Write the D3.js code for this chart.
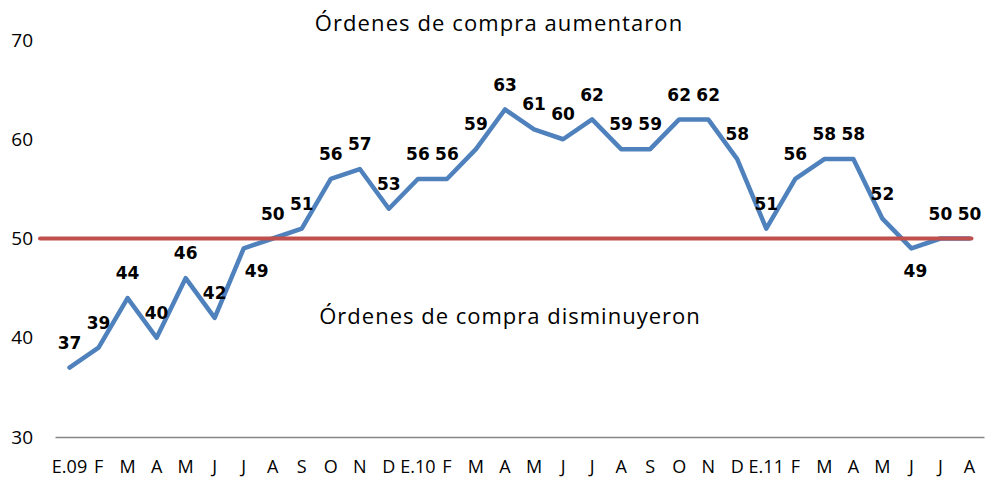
<!DOCTYPE html>
<html><head><meta charset="utf-8">
<script src="https://cdn.jsdelivr.net/npm/d3@7"></script>
<style>body{margin:0;background:#fff} svg{display:block}</style>
</head><body><svg id="c" width="987" height="480"></svg>
<script>
const categories = ["E.09","F","M","A","M","J","J","A","S","O","N","D","E.10","F","M","A","M","J","J","A","S","O","N","D","E.11","F","M","A","M","J","J","A"];
const values = [37,39,44,40,46,42,49,50,51,56,57,53,56,56,59,63,61,60,62,59,59,62,62,58,51,56,58,58,52,49,50,50];
const yTicks = [30,40,50,60,70];
const threshold = 50;
const labelBelow = [6, 29];
const topNote = "Órdenes de compra aumentaron";
const bottomNote = "Órdenes de compra disminuyeron";

const svg = d3.select("#c");
const x = d3.scaleBand().domain(d3.range(categories.length)).range([55, 984]).padding(0);
const cx = i => x(i) + x.bandwidth() / 2;
const y = d3.scaleLinear().domain([30, 70]).range([437, 40]);
const axisFont = "'Open Sans', sans-serif";

// y axis
const ya = svg.append("g").attr("transform", "translate(55,0)")
  .call(d3.axisLeft(y).tickValues(yTicks).tickSize(0).tickPadding(22));
ya.select(".domain").remove();
ya.selectAll("text").attr("font-family", axisFont).attr("font-size", 19).attr("fill", "#000");

// x axis
const xa = svg.append("g").attr("transform", "translate(0,437)")
  .call(d3.axisBottom(x).tickFormat(i => categories[i]).tickSize(0).tickSizeOuter(0).tickPadding(23));
xa.select(".domain").attr("stroke", "#868686").attr("stroke-width", 1.5);
xa.selectAll("text").attr("font-family", axisFont).attr("font-size", 18).attr("fill", "#000");

// series line
const line = d3.line().x((d, i) => cx(i)).y(d => y(d));
svg.append("path").datum(values).attr("d", line)
  .attr("fill", "none").attr("stroke", "#4F81BD").attr("stroke-width", 4.5)
  .attr("stroke-linejoin", "round").attr("stroke-linecap", "round");

// threshold line
svg.append("line")
  .attr("x1", x.range()[0] - 15).attr("x2", cx(categories.length - 1) + 2)
  .attr("y1", y(threshold)).attr("y2", y(threshold))
  .attr("stroke", "#C0504D").attr("stroke-width", 4).attr("stroke-linecap", "round");

// data labels
svg.append("g").selectAll("text").data(values).join("text")
  .attr("x", (d, i) => cx(i) + (labelBelow.includes(i) ? (i < 10 ? 13 : 4) : 0))
  .attr("y", (d, i) => y(d) + (labelBelow.includes(i) ? 22 : -25))
  .attr("dy", "0.36em")
  .attr("text-anchor", "middle")
  .attr("font-family", "'DejaVu Sans', Verdana, sans-serif")
  .attr("font-weight", "bold").attr("font-size", 17).attr("fill", "#000")
  .text(d => d);

// annotations
svg.append("text").attr("x", 499).attr("y", 31).attr("text-anchor", "middle")
  .attr("font-family", axisFont).attr("font-size", 22).attr("letter-spacing", 1.1)
  .attr("fill", "#000").text(topNote);
svg.append("text").attr("x", 510).attr("y", 324).attr("text-anchor", "middle")
  .attr("font-family", axisFont).attr("font-size", 22).attr("letter-spacing", 1.0)
  .attr("fill", "#000").text(bottomNote);
</script></body></html>
